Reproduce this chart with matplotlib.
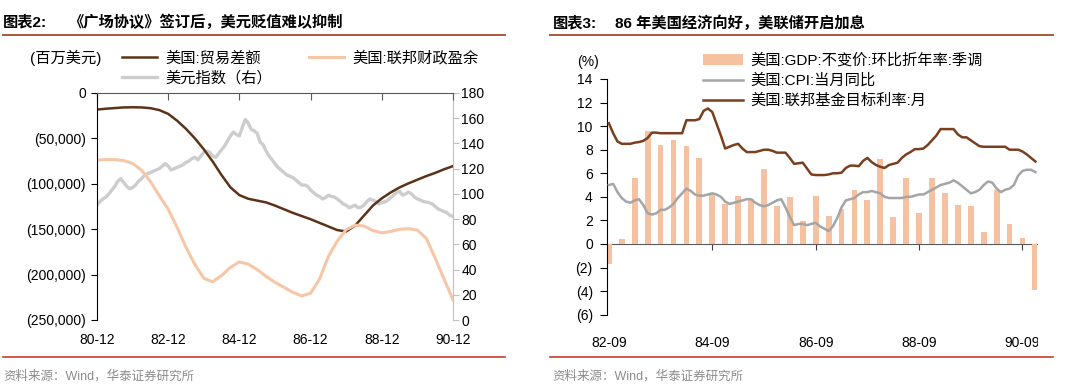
import numpy as np
import matplotlib
matplotlib.use("Agg")
import matplotlib.pyplot as plt
from matplotlib.lines import Line2D
from matplotlib.ticker import FuncFormatter
from matplotlib.transforms import Bbox, TransformedBbox

plt.rcParams['font.family'] = ['Liberation Sans', 'Noto Sans CJK SC', 'DejaVu Sans']

# ---------------- Left chart data (monthly index from 80-12) ----------------
left_xticklabels = ['80-12', '82-12', '84-12', '86-12', '88-12', '90-12']
# quarterly samples, US trade balance (million USD)
trade_balance = [-18300, -17300, -16600, -15900, -15700, -15900, -16700, -18800, -23000,
                 -30500, -39500, -50000, -62000, -75500, -90500, -104000, -112500,
                 -116500, -118500, -120500, -124000, -128000, -132000, -135500, -139000,
                 -143000, -147000, -151000, -152500, -146000, -135000, -124000, -116000,
                 -109500, -104000, -99500, -95500, -91500, -88000, -84000, -80500]
# quarterly samples, US federal fiscal balance (million USD)
fiscal_balance = [-74000, -73300, -73300, -74500, -77500, -85000, -97500, -113000, -128000,
                  -148000, -170000, -189000, -204000, -208000, -201000, -192000, -186000,
                  -188500, -194500, -202000, -208500, -214000, -219500, -223500, -220500,
                  -205000, -180000, -163000, -150500, -145500, -146500, -151500, -154000,
                  -152500, -150000, -149500, -151000, -160000, -182000, -205000, -228000]
# monthly US dollar index (right axis)
dollar_index = [91, 94, 96, 97.5, 100, 103, 106, 110, 112, 109,
                106, 104, 105, 107, 110, 112, 115, 116, 117, 118,
                119, 120, 122, 124, 122, 119, 120, 121, 122, 123,
                125, 126, 128, 129, 127, 130, 133, 134, 133, 130,
                129, 132, 135, 138, 142, 146, 149, 147, 146, 153,
                159, 156, 151, 150, 148, 141, 139, 134, 130, 127,
                124, 121, 119, 117, 115, 114, 113, 111, 109, 107,
                107, 106, 103, 101, 99, 98, 96, 97, 99, 98,
                97.5, 96, 94, 92, 91, 89, 90, 91, 89, 89.5,
                91, 94, 96, 95, 94, 92, 93, 93.5, 95, 97,
                99, 101, 102, 99, 100, 101.5, 100, 97.5, 96, 95,
                94, 93.5, 93, 92, 90, 88, 87, 86, 85, 83,
                82]

# ---------------- Right chart data (monthly index from 82-09) ----------------
right_xticklabels = ['82-09', '84-09', '86-09', '88-09', '90-09']
gdp_qoq_saar = [-1.7, 0.4, 5.6, 9.6, 8.4, 8.8, 8.35, 7.3, 4.2, 3.4, 4.1, 3.85, 6.4, 3.2,
                4.0, 1.95, 4.1, 2.4, 3.0, 4.6, 3.7, 7.2, 2.3, 5.6, 2.65, 5.6, 4.3, 3.35,
                3.2, 1.05, 4.6, 1.7, 0.5, -3.9]
cpi_yoy = [5.0, 5.1, 4.4, 3.9, 3.6, 3.5, 3.7, 3.8, 3.3, 2.6,
           2.5, 2.6, 2.9, 2.9, 3.1, 3.4, 3.9, 4.3, 4.7, 4.5,
           4.2, 4.1, 4.1, 4.2, 4.3, 4.2, 4.0, 3.6, 3.4, 3.5,
           3.6, 3.7, 3.8, 3.8, 3.5, 3.3, 3.2, 3.3, 3.5, 3.7,
           3.8, 3.1, 2.3, 1.6, 1.7, 1.7, 1.6, 1.7, 1.8, 1.5,
           1.3, 1.1, 1.5, 2.2, 3.1, 3.7, 3.8, 3.9, 4.2, 4.4,
           4.4, 4.5, 4.4, 4.3, 4.0, 3.9, 3.9, 3.9, 3.9, 4.0,
           4.0, 4.1, 4.2, 4.2, 4.4, 4.6, 4.8, 5.0, 5.1, 5.2,
           5.4, 5.2, 4.9, 4.6, 4.3, 4.4, 4.6, 5.0, 5.3, 5.2,
           4.7, 4.4, 4.6, 4.7, 5.0, 5.8, 6.2, 6.3, 6.3, 6.1]
fed_target = [10.25, 9.4, 8.7, 8.5, 8.5, 8.5, 8.6, 8.65, 8.75, 9.0,
              9.45, 9.45, 9.4, 9.4, 9.4, 9.4, 9.4, 9.4, 10.5, 10.5,
              10.5, 10.6, 11.3, 11.5, 11.2, 10.2, 9.2, 8.1, 8.25, 8.4,
              8.5, 8.1, 7.8, 7.8, 7.8, 7.9, 8.0, 8.0, 7.9, 7.75,
              7.75, 7.75, 7.3, 6.8, 6.85, 6.9, 6.4, 5.9, 5.85, 5.85,
              5.85, 5.9, 6.0, 6.0, 6.05, 6.45, 6.65, 6.65, 6.6, 7.05,
              7.3, 6.95, 6.7, 6.55, 6.45, 6.7, 6.8, 6.9, 7.3, 7.6,
              7.8, 8.05, 8.05, 8.1, 8.4, 8.8, 9.2, 9.75, 9.75, 9.75,
              9.75, 9.3, 9.05, 9.05, 8.8, 8.55, 8.3, 8.25, 8.25, 8.25,
              8.25, 8.25, 8.25, 8.0, 8.0, 8.0, 7.85, 7.6, 7.3, 7.0]

# ---------------- Figure ----------------
W, H = 1080, 391
fig = plt.figure(figsize=(W / 100, H / 100), dpi=100)


def fx(px):
    return px / W


def fy(py):
    return 1 - py / H


TXT = 10
LEG = 11
C_TRADE = '#5B3319'
C_FISCAL = '#F6C7A7'
C_DOLLAR = '#CDCDCD'
C_BAR = '#F5C1A0'
C_CPI = '#A5A5A5'
C_FED = '#7A3F1F'
C_TOPLINE = '#A9573F'
C_BOTLINE = '#CC3B2F'
C_SRC = '#8C8C8C'

# ---- Left chart ----
ax = fig.add_axes([fx(97), fy(320), fx(356), 227 / H])
xm_q = np.arange(len(trade_balance)) * 3
xm_m = np.arange(len(dollar_index))
l_trade, = ax.plot(xm_q, trade_balance, color=C_TRADE, lw=1.8, label='美国:贸易差额')
l_fiscal, = ax.plot(xm_q, fiscal_balance, color=C_FISCAL, lw=2.2, label='美国:联邦财政盈余')
ax.set_xlim(0, 120)
ax.set_ylim(-250000, 0)
ax.set_yticks(np.arange(-250000, 1, 50000))
ax.yaxis.set_major_formatter(FuncFormatter(
    lambda v, p: '0' if v == 0 else (f'({abs(v):,.0f})' if v < 0 else f'{v:,.0f}')))
ax.set_xticks(np.arange(0, 121, 24))
ax.set_xticklabels(left_xticklabels)
ax.tick_params(axis='x', top=True, bottom=False, labeltop=False, labelbottom=True,
               direction='in', length=5, pad=9, labelsize=TXT, color='#595959')
ax.tick_params(axis='y', direction='out', length=4, pad=4, labelsize=TXT, color='#000000')
ax.spines['bottom'].set_visible(False)
ax.spines['right'].set_visible(False)
ax.spines['top'].set_color('#595959')
ax.spines['left'].set_color('#000000')
ax.patch.set_alpha(0)

ax2 = ax.twinx()
l_dollar, = ax2.plot(xm_m, dollar_index, color=C_DOLLAR, lw=2.4, label='美元指数（右）')
ax2.set_ylim(0, 180)
ax2.set_yticks(np.arange(0, 181, 20))
ax2.tick_params(axis='y', direction='out', length=4, pad=2, labelsize=TXT, color='#BFBFBF')
for s in ['left', 'top', 'bottom']:
    ax2.spines[s].set_visible(False)
ax2.spines['right'].set_color('#BFBFBF')
ax.set_zorder(ax2.get_zorder() + 1)

fig.legend(handles=[l_trade, l_dollar, l_fiscal], loc='upper left',
           bbox_to_anchor=(fx(122), fy(51)), ncol=2, frameon=False, fontsize=LEG,
           handlelength=2.3, handletextpad=0.55, columnspacing=2.4, labelspacing=0.35,
           borderpad=0, borderaxespad=0)
fig.text(fx(30), fy(58), '(百万美元)', fontsize=LEG, ha='left', va='center')

# ---- Right chart ----
ax3 = fig.add_axes([fx(606.7), fy(314.7), fx(430), 235.7 / H])
xm_gdp = np.arange(len(gdp_qoq_saar)) * 3
xm_r = np.arange(len(cpi_yoy))
bars = ax3.bar(xm_gdp, gdp_qoq_saar, width=1.35, color=C_BAR,
               label='美国:GDP:不变价:环比折年率:季调', zorder=2)
l_cpi, = ax3.plot(xm_r, cpi_yoy, color=C_CPI, lw=1.8, label='美国:CPI:当月同比', zorder=3)
l_fed, = ax3.plot(xm_r, fed_target, color=C_FED, lw=1.8, label='美国:联邦基金目标利率:月', zorder=3)
ax3.set_xlim(-0.5, 99.3)
ax3.set_ylim(-6, 14)
ax3.set_yticks(np.arange(-6, 15, 2))
ax3.yaxis.set_major_formatter(FuncFormatter(
    lambda v, p: f'({abs(v):.0f})' if v < 0 else f'{v:.0f}'))
ax3.set_xticks(np.arange(0, 97, 24))
ax3.set_xticklabels(right_xticklabels)
ax3.tick_params(axis='x', length=0, pad=15, labelsize=TXT)
ax3.tick_params(axis='y', direction='out', length=5, pad=5, labelsize=TXT)
for s in ['top', 'right', 'bottom']:
    ax3.spines[s].set_visible(False)
ax3.spines['left'].set_color('#000000')
ax3.patch.set_alpha(0)

sec = ax3.secondary_xaxis(0.3)
sec.set_xticks(np.arange(0, 97, 24))
sec.set_xticklabels([])
sec.tick_params(axis='x', direction='out', length=4, color='#404040')
sec.spines['bottom'].set_color('#595959')
sec.spines['bottom'].set_zorder(4)

# clip the last x label at the panel edge as in the reference
clipbox = TransformedBbox(Bbox([[0, 0], [fx(1038), 1]]), fig.transFigure)
for lbl in ax3.get_xticklabels():
    lbl.set_clip_box(clipbox)
    lbl.set_clip_on(True)

fig.legend(handles=[bars, l_cpi, l_fed], loc='upper left',
           bbox_to_anchor=(fx(703), fy(53)), ncol=1, frameon=False, fontsize=LEG,
           handlelength=2.6, handletextpad=0.5, labelspacing=0.38,
           borderpad=0, borderaxespad=0)
fig.text(fx(588), fy(62), '(%)', fontsize=TXT, ha='center', va='center')

# ---- Titles, rules, sources ----
fig.text(fx(3), fy(22), '图表2:', fontsize=11, fontweight='bold', ha='left', va='center')
fig.text(fx(68), fy(22), '《广场协议》签订后，美元贬值难以抑制', fontsize=11,
         fontweight='bold', ha='left', va='center')
fig.text(fx(553), fy(23), '图表3:', fontsize=11, fontweight='bold', ha='left', va='center')
fig.text(fx(615), fy(23), '86 年美国经济向好，美联储开启加息', fontsize=11,
         fontweight='bold', ha='left', va='center')

for x0, x1 in [(3, 505), (550, 1053)]:
    fig.add_artist(Line2D([fx(x0), fx(x1)], [fy(35), fy(35)], color=C_TOPLINE, lw=1.4,
                          transform=fig.transFigure))
    fig.add_artist(Line2D([fx(x0), fx(x1)], [fy(356.5), fy(356.5)], color=C_BOTLINE, lw=1.2,
                          transform=fig.transFigure))

fig.text(fx(3), fy(376), '资料来源：Wind，华泰证券研究所', fontsize=9, color=C_SRC, ha='left', va='center')
fig.text(fx(552), fy(376), '资料来源：Wind，华泰证券研究所', fontsize=9, color=C_SRC, ha='left', va='center')

fig.savefig('out.png', dpi=100)
